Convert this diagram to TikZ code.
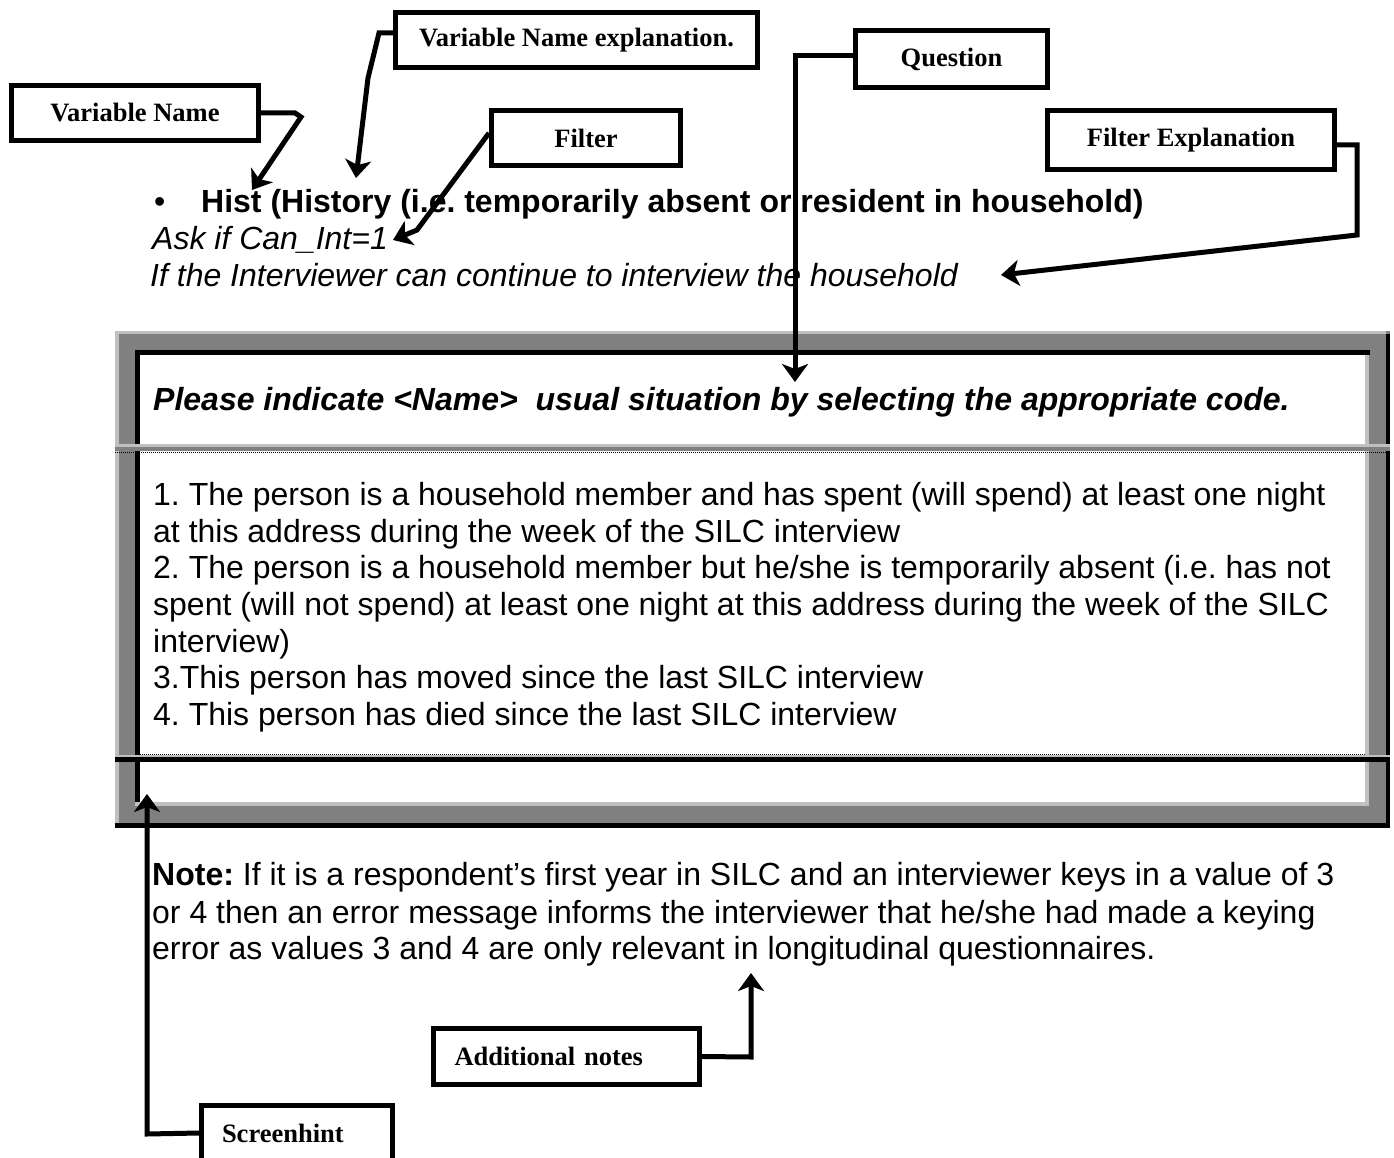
\documentclass[tikz,border=0pt]{standalone}
\usepackage{fontspec}
\setmainfont{Liberation Sans}
\newfontfamily\labfamily{Liberation Serif}
\usetikzlibrary{arrows.meta}
\newcommand\mybody{\fontsize{32}{36.6}\selectfont}
\newcommand\mylab{\labfamily\bfseries\fontsize{26.5}{30}\selectfont}
\definecolor{bandgrey}{HTML}{808080}
\definecolor{lightgrey}{HTML}{C0C0C0}
\frenchspacing
\begin{document}
\frenchspacing
\begin{tikzpicture}[x=1pt,y=-1pt,
  callout/.style={draw, line width=5pt, minimum height=55pt, inner sep=0pt, font=\mylab},
  conn/.style={line width=5pt, -{Stealth[length=18pt,width=26pt,inset=5pt]}},
  txt/.style={anchor=base west, inner sep=0pt, font=\mybody},
  dotline/.style={line width=1pt, dash pattern=on 1pt off 1pt}]
\clip (0,0) rectangle (1394,1158);
\fill[white] (0,0) rectangle (1394,1158);
% ---- table frame ----
\fill[bandgrey] (115,331) rectangle (1390,828);
\fill[lightgrey] (115,331) rectangle (1386,334);
\fill[lightgrey] (115,331) rectangle (119,823);
\fill[black] (1386,334) rectangle (1390,828);
\fill[black] (115,823) rectangle (1390,828);
\fill[white] (135,350) rectangle (1368,806);
\fill[black] (135,350) rectangle (1370,355);
\fill[black] (135,350) rectangle (140,806);
\fill[lightgrey] (1365,355) rectangle (1369,806);
\fill[lightgrey] (135,802) rectangle (1369,806);
% separator 1
\fill[lightgrey] (115,444) rectangle (1390,447);
\fill[bandgrey] (115,447) rectangle (1390,451);
\fill[white] (140,451) rectangle (1365,454);
\draw[dotline] (115,452.5) -- (1390,452.5);
% separator 2
\fill[white] (140,753) rectangle (1365,755);
\draw[dotline] (140,754) -- (1365,754);
\fill[lightgrey] (115,755) rectangle (1390,757);
\fill[black] (115,757) rectangle (1390,762);
% ---- texts ----
\node[txt] (bul) at (154,213) {•};
\node[txt, font=\mybody\bfseries] (hist) at (201,213) {Hist (History (i.e. temporarily absent or resident in household)};
\node[txt, font=\mybody\itshape] (ask) at (152,250) {Ask if Can\_Int=1};
\node[txt, font=\mybody\itshape] (ifl) at (150,287) {If the Interviewer can continue to interview the household};
\node[txt, font=\mybody\bfseries\itshape] (quest) at (153,410) {Please indicate <Name>\ \ usual situation by selecting the appropriate code.};
\node[txt] (a1) at (153,505) {1. The person is a household member and has spent (will spend) at least one night};
\node[txt] (a2) at (153,542) {at this address during the week of the SILC interview};
\node[txt] (a3) at (153,578) {2. The person is a household member but he/she is temporarily absent (i.e. has not};
\node[txt] (a4) at (153,615) {spent (will not spend) at least one night at this address during the week of the SILC};
\node[txt] (a5) at (153,652) {interview)};
\node[txt] (a6) at (153,688) {3.This person has moved since the last SILC interview};
\node[txt] (a7) at (153,725) {4. This person has died since the last SILC interview};
\node[txt] (n1) at (152,885) {\textbf{Note:} If it is a respondent’s first year in SILC and an interviewer keys in a value of 3};
\node[txt] (n2) at (152,923) {or 4 then an error message informs the interviewer that he/she had made a keying};
\node[txt] (n3) at (152,959) {error as values 3 and 4 are only relevant in longitudinal questionnaires.};
% ---- callouts ----
\node[callout, minimum width=247pt] (VN) at (135,113) {Variable Name};
\node[callout, minimum width=362pt] (VNE) at (576.5,40) {Variable Name explanation.};
\node[callout, minimum width=189pt] (F) at (586,138) {Filter};
\node[callout, minimum width=192pt, minimum height=57pt] (Q) at (951.5,59) {Question};
\node[callout, minimum width=287pt, minimum height=59pt] (FE) at (1191,140) {Filter Explanation};
\node[callout, inner xsep=21pt, text width=224pt, align=left, minimum height=56pt] (AN) at (566.5,1056.5) {Additional notes};
\node[callout, inner xsep=20.5pt, text width=150pt, align=left] (SH) at (297,1133) {Screenhint};
% ---- connectors ----
\coordinate (vnA) at (295,113);
\coordinate (vnB) at (301,117);
\coordinate (vnT) at (252,190);
\draw[conn] (VN.east) -- (vnA) -- (vnB) -- (vnT);
\coordinate (vneA) at (379,33);
\coordinate (vneB) at (368,78);
\coordinate (vneT) at (356,178);
\draw[conn] ([yshift=7pt]VNE.west) -- (vneA) -- (vneB) -- (vneT);
\coordinate (fA) at (417,230);
\coordinate (fT) at (393,240);
\draw[conn] ([yshift=5pt]F.west) -- (fA) -- (fT);
\coordinate (qA) at (795,56);
\coordinate (qT) at (795,382);
\draw[conn] ([yshift=3pt]Q.west) -- (qA) -- (qT);
\coordinate (feA) at (1357,145);
\coordinate (feB) at (1357,235);
\coordinate (feT) at (1001,275);
\draw[conn] ([yshift=-5pt]FE.east) -- (feA) -- (feB) -- (feT);
\coordinate (anA) at (751,1057);
\coordinate (anT) at (751,973);
\draw[conn] (AN.east) -- (anA) -- (anT);
\coordinate (shA) at (147,1134);
\coordinate (shT) at (147,794);
\draw[conn] (SH.west) -- (shA) -- (shT);
\end{tikzpicture}
\end{document}
